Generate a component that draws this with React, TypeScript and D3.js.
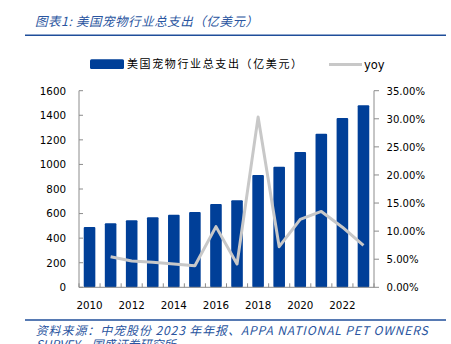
import React from "react";
import * as d3 from "d3";

const years = [2010, 2011, 2012, 2013, 2014, 2015, 2016, 2017, 2018, 2019, 2020, 2021, 2022, 2023];
const spending = [490, 521, 545, 570, 591, 613, 678, 708, 914, 981, 1101, 1250, 1378, 1481];
const yoy = [null, 5.45, 4.68, 4.45, 4.15, 3.85, 10.8, 4.15, 30.3, 7.23, 12.1, 13.5, 10.7, 7.48];
const leftTicks = [0, 200, 400, 600, 800, 1000, 1200, 1400, 1600];
const rightTicks = [0, 5, 10, 15, 20, 25, 30, 35];
const xLabels = [2010, 2012, 2014, 2016, 2018, 2020, 2022];

const BLUE = "#003f98";
const GRAY = "#c8c8c8";
const AXIS = "#8c8c8c";
const TXT = "#000";
const NUMFONT = "'DejaVu Sans', Verdana, sans-serif";
const CJK = "'Noto Sans CJK SC', sans-serif";

export default function App() {
  const W = 451, H = 344;
  const left = 79, right = 374, top = 90.7, bottom = 287.3;
  const x = d3.scaleBand<number>().domain(years).range([left, right]).paddingInner(0.45).paddingOuter(0.225);
  const yL = d3.scaleLinear().domain([0, 1600]).range([bottom, top]);
  const yR = d3.scaleLinear().domain([0, 35]).range([bottom, top]);
  const step = x.step();
  const cx = (yr: number) => (x(yr) as number) + x.bandwidth() / 2;
  const lineGen = d3
    .line<[number, number | null]>()
    .defined((d) => d[1] != null)
    .x((d) => cx(d[0]))
    .y((d) => yR(d[1] as number));
  const linePath = lineGen(years.map((yr, i) => [yr, yoy[i]]));
  const boundaries = d3.range(years.length + 1).map((i) => left + i * step);

  return (
    <svg width={W} height={H} style={{ position: "absolute", left: 0, top: 0 }}>
      <rect x={0} y={0} width={W} height={H} fill="#fff" />
      {/* title */}
      <text x={35} y={26} fontFamily={CJK} fontStyle="italic" fontSize={12.5} fill="#2a55a0" textLength={223} lengthAdjust="spacing">
        图表1:  美国宠物行业总支出（亿美元）
      </text>
      <line x1={25} x2={446} y1={35.3} y2={35.3} stroke="#1f4e9a" strokeWidth={1.5} />

      {/* legend */}
      <rect x={90} y={59.3} width={34} height={9.7} fill={BLUE} rx={1.5} />
      <text x={127} y={68} fontFamily={CJK} fontSize={11} fill={TXT} textLength={175} lengthAdjust="spacing">
        美国宠物行业总支出（亿美元）
      </text>
      <line x1={329} x2={362} y1={64.5} y2={64.5} stroke={GRAY} strokeWidth={3} />
      <text x={364} y={68.5} fontFamily={NUMFONT} fontSize={11.5} fill={TXT}>yoy</text>

      {/* bars */}
      {years.map((yr, i) => (
        <rect key={yr} x={x(yr)} y={yL(spending[i])} width={x.bandwidth()} height={bottom - yL(spending[i])} fill={BLUE} rx={1} />
      ))}

      {/* yoy line */}
      <path d={linePath || ""} fill="none" stroke={GRAY} strokeWidth={3} strokeLinejoin="round" />

      {/* left axis */}
      <line x1={left} x2={left} y1={top} y2={bottom} stroke={AXIS} />
      {leftTicks.map((t) => (
        <g key={t}>
          <line x1={left} x2={left + 4} y1={yL(t)} y2={yL(t)} stroke={AXIS} />
          <text x={66} y={yL(t) + 3.8} textAnchor="end" fontFamily={NUMFONT} fontSize={10.3} fill={TXT}>{t}</text>
        </g>
      ))}

      {/* right axis */}
      <line x1={right} x2={right} y1={top} y2={bottom} stroke={AXIS} />
      {rightTicks.map((t) => (
        <g key={t}>
          <line x1={right} x2={right + 5} y1={yR(t)} y2={yR(t)} stroke={AXIS} />
          <text x={386.5} y={yR(t) + 3.8} fontFamily={NUMFONT} fontSize={10.1} fill={TXT}>{t.toFixed(2)}%</text>
        </g>
      ))}

      {/* x axis */}
      <line x1={left} x2={right} y1={bottom} y2={bottom} stroke={AXIS} />
      {boundaries.map((b, i) => (
        <line key={i} x1={b} x2={b} y1={bottom} y2={bottom - 4} stroke={AXIS} />
      ))}
      {xLabels.map((yr) => (
        <text key={yr} x={cx(yr)} y={309} textAnchor="middle" fontFamily={NUMFONT} fontSize={10.3} fill={TXT}>{yr}</text>
      ))}

      {/* footer */}
      <line x1={25} x2={446} y1={320} y2={320} stroke="#1f4e9a" strokeWidth={1.5} />
      <text x={35.7} y={335} fontFamily={CJK} fontStyle="italic" fontSize={12} fill="#2a55a0" textLength={392} lengthAdjust="spacing">
        资料来源：中宠股份 2023 年年报、APPA NATIONAL PET OWNERS
      </text>
      <text x={35.7} y={349} fontFamily={CJK} fontStyle="italic" fontSize={12} fill="#2a55a0">
        SURVEY，国盛证券研究所
      </text>
    </svg>
  );
}
